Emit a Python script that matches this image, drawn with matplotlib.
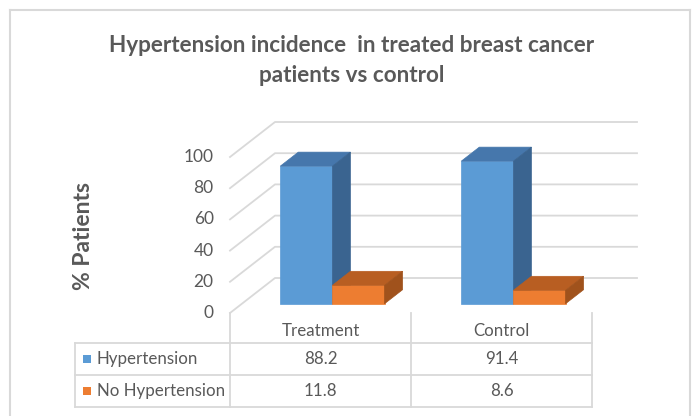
import matplotlib
matplotlib.use("Agg")
import matplotlib.pyplot as plt
from matplotlib.patches import Polygon, Rectangle
from matplotlib.lines import Line2D
import matplotlib.transforms as mtransforms

# data
categories = ["Treatment", "Control"]
series_names = ["Hypertension", "No Hypertension"]
hypertension = [88.2, 91.4]
no_hypertension = [11.8, 8.6]
y_ticks = [0, 20, 40, 60, 80, 100]

W, H = 694, 416
fig = plt.figure(figsize=(W / 100, H / 100), dpi=100)
fig.patch.set_facecolor("white")
# pixel coords, origin top-left
pix = mtransforms.Affine2D().scale(1 / W, -1 / H).translate(0, 1) + fig.transFigure

TXT = "#595959"
GRID = "#D9D9D9"
FONT = ["Lato", "DejaVu Sans"]

# chart border
for xs, ys in [([10, 10], [420, 10]), ([10, 690], [10, 10]), ([690, 690], [10, 420])]:
    fig.add_artist(Line2D(xs, ys, transform=pix, color=GRID, lw=1.5))

fig.text(352, 45, "Hypertension incidence  in treated breast cancer", transform=pix,
         ha="center", va="center", fontsize=16.2, fontweight="bold", color=TXT, family=FONT)
fig.text(352, 75, "patients vs control", transform=pix,
         ha="center", va="center", fontsize=16.2, fontweight="bold", color=TXT, family=FONT)

# front plane axes: x 0..2 categories, y 0..100 %
ax = fig.add_axes([230 / W, 103 / H, 362 / W, 156 / H])
ax.set_xlim(0, 2)
ax.set_ylim(0, 100)
ax.axis("off")

DX = 45 / 181.0   # depth shift in category units
DV = 35 / 1.56    # depth shift in value units


def proj(x, v, d):
    return (x + DX * d, v + DV * d)


# back wall and side wall gridlines
for t in y_ticks:
    p0 = proj(0, t, 0)
    p1 = proj(0, t, 1)
    p2 = proj(len(categories), t, 1)
    ax.plot([p0[0], p1[0], p2[0]], [p0[1], p1[1], p2[1]], color=GRID, lw=1.3,
            clip_on=False, zorder=1)
    ax.text(-0.09, t, str(t), ha="right", va="center", fontsize=12.5, color=TXT,
            family=FONT, clip_on=False)

fig.text(84, 236, "% Patients", transform=pix, rotation=90, ha="center", va="center",
         fontsize=16.5, fontweight="bold", color=TXT, family=FONT)

# 3D bars
bw = 0.288
d0, d1 = 0.265, 0.665
colors = [("#5B9BD5", "#4677AC", "#3A6490"), ("#ED7D31", "#B85E22", "#A0521C")]
values = [hypertension, no_hypertension]
z = 3
for i in range(len(categories)):
    for s, vals in enumerate(values):
        v = vals[i]
        xl = i + 0.5 - bw + s * bw
        xr = xl + bw
        front, top, side = colors[s]
        faces = [
            ([proj(xl, 0, d0), proj(xr, 0, d0), proj(xr, v, d0), proj(xl, v, d0)], front),
            ([proj(xl, v, d0), proj(xr, v, d0), proj(xr, v, d1), proj(xl, v, d1)], top),
            ([proj(xr, 0, d0), proj(xr, 0, d1), proj(xr, v, d1), proj(xr, v, d0)], side),
        ]
        for pts, c in faces:
            ax.add_patch(Polygon(pts, closed=True, facecolor=c, edgecolor=c, lw=0.5,
                                 clip_on=False, zorder=z))
        z += 1

# data table
bx = mtransforms.blended_transform_factory(ax.transData, pix)
row_y = [343, 375, 407]
for y in row_y:
    fig.add_artist(Line2D([75, 592], [y, y], transform=pix, color=GRID, lw=1.3))
fig.add_artist(Line2D([75, 75], [343, 407], transform=pix, color=GRID, lw=1.3))
for k in range(len(categories) + 1):
    fig.add_artist(Line2D([k, k], [313, 407], transform=bx, color=GRID, lw=1.3))
for i, c in enumerate(categories):
    fig.text(i + 0.5, 331, c, transform=bx, ha="center", va="center",
             fontsize=12.2, color=TXT, family=FONT)
for r, (name, vals) in enumerate(zip(series_names, values)):
    yc = (row_y[r] + row_y[r + 1]) / 2
    fig.add_artist(Rectangle((83, yc - 4), 8, 8, transform=pix,
                             facecolor=colors[r][0], edgecolor="none"))
    fig.text(97, yc, name, transform=pix, ha="left", va="center",
             fontsize=12.2, color=TXT, family=FONT)
    for i, v in enumerate(vals):
        fig.text(i + 0.5, yc, f"{v}", transform=bx, ha="center", va="center",
                 fontsize=12.2, color=TXT, family=FONT)

fig.savefig("out.png", dpi=100, facecolor="white")
